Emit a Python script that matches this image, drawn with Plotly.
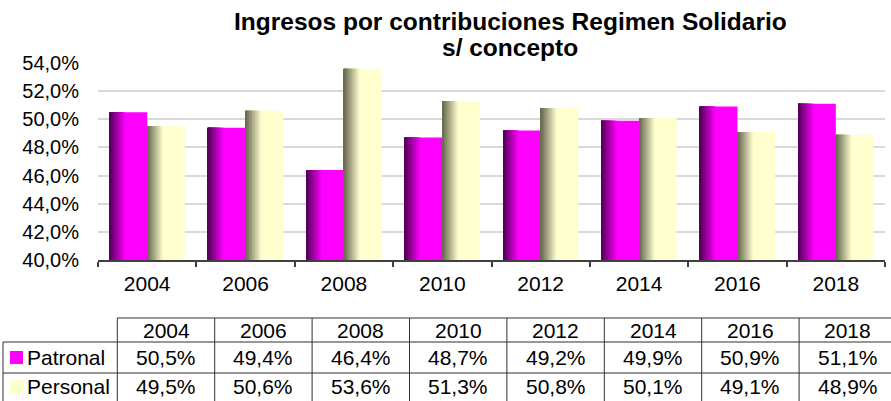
import plotly.graph_objects as go

# ---------------- data ----------------
years = ["2004", "2006", "2008", "2010", "2012", "2014", "2016", "2018"]
patronal = [0.505, 0.494, 0.464, 0.487, 0.492, 0.499, 0.509, 0.511]
personal = [0.495, 0.506, 0.536, 0.513, 0.508, 0.501, 0.491, 0.489]
series_names = ["Patronal", "Personal"]
title_line1 = "Ingresos por contribuciones Regimen Solidario"
title_line2 = "s/ concepto"

# ---------------- style ----------------
FONT = "Arial, Liberation Sans, sans-serif"
W, H = 891, 401
ML, MR, MT, MB = 98, 6, 63, 141
PW, PH = W - ML - MR, H - MT - MB

def px(x):
    return (x - ML) / PW

def py(y):
    return (H - MB - y) / PH

def lerp(c1, c2, t):
    return "rgb(%d,%d,%d)" % tuple(round(a + (b - a) * t) for a, b in zip(c1, c2))

bar_w = 0.383
grad_frac = 0.42
N = 10
styles = [
    {"dark": (80, 0, 85), "bright": (255, 0, 255), "offset": -bar_w, "key": "rgb(255,0,255)"},
    {"dark": (100, 100, 78), "bright": (255, 255, 208), "offset": 0.0, "key": "rgb(255,255,204)"},
]

fig = go.Figure()
for vals, st in zip([patronal, personal], styles):
    fig.add_trace(go.Bar(x=years, y=vals, width=bar_w, offset=st["offset"],
                         marker=dict(color=lerp(st["bright"], st["bright"], 0), line_width=0),
                         showlegend=False, hoverinfo="skip"))
    for k in range(1, N + 1):
        f = (N - k + 1) / N
        s = (N - k + 0.5) / N
        fig.add_trace(go.Bar(x=years, y=vals, width=bar_w * grad_frac * f, offset=st["offset"],
                             marker=dict(color=lerp(st["dark"], st["bright"], s), line_width=0),
                             showlegend=False, hoverinfo="skip"))

annotations = []
shapes = []

# title
tt_font = dict(family=FONT, size=24.5, color="black")
annotations.append(dict(text="<b>%s</b>" % title_line1, x=px(510), y=py(22), xref="paper", yref="paper",
                        xanchor="center", yanchor="middle", showarrow=False, font=tt_font))
annotations.append(dict(text="<b>%s</b>" % title_line2, x=px(510), y=py(47), xref="paper", yref="paper",
                        xanchor="center", yanchor="middle", showarrow=False, font=tt_font))

# data table
t_left, t_lab, col_w = 3, 117.3, 97.4
t_right = t_lab + col_w * len(years)
r_top, r1, r2, r_bot = 318, 342, 373, 404
lc = "#303030"
def hline(y, x0, x1):
    shapes.append(dict(type="line", xref="paper", yref="paper", x0=px(x0), x1=px(x1), y0=py(y), y1=py(y),
                       line=dict(color=lc, width=1)))
def vline(x, y0, y1):
    shapes.append(dict(type="line", xref="paper", yref="paper", x0=px(x), x1=px(x), y0=py(y0), y1=py(y1),
                       line=dict(color=lc, width=1)))
hline(r_top, t_lab, t_right)
hline(r1, t_left, t_right)
hline(r2, t_left, t_right)
vline(t_left, r1, r_bot)
for i in range(len(years) + 1):
    vline(t_lab + col_w * i, r_top, r_bot)

def fmt(v):
    return ("%.1f%%" % (v * 100)).replace(".", ",")

tfont = dict(family=FONT, size=21, color="black")
row_centers = [(r1 + r2) / 2, (r2 + r_bot) / 2 - 2]
for i, yr in enumerate(years):
    cx = t_lab + col_w * (i + 0.5)
    annotations.append(dict(text=yr, x=px(cx), y=py((r_top + r1) / 2), xref="paper", yref="paper",
                            xanchor="center", yanchor="middle", showarrow=False, font=tfont))
    for vals, rc in zip([patronal, personal], row_centers):
        annotations.append(dict(text=fmt(vals[i]), x=px(cx), y=py(rc), xref="paper", yref="paper",
                                xanchor="center", yanchor="middle", showarrow=False, font=tfont))

for name, st, rc in zip(series_names, styles, row_centers):
    shapes.append(dict(type="rect", xref="paper", yref="paper", x0=px(10), x1=px(23),
                       y0=py(rc - 6.5), y1=py(rc + 6.5), line_width=0, fillcolor=st["key"]))
    annotations.append(dict(text=name, x=px(25), y=py(rc), xref="paper", yref="paper",
                            xanchor="left", yanchor="middle", showarrow=False, font=tfont))

fig.update_layout(
    width=W, height=H,
    margin=dict(l=ML, r=MR, t=MT, b=MB, autoexpand=False),
    paper_bgcolor="white", plot_bgcolor="white",
    barmode="overlay",
    separators=",.",
    font=dict(family=FONT, size=20, color="black"),
    annotations=annotations,
    shapes=shapes,
    xaxis=dict(type="category", showline=True, linecolor="#404040", linewidth=2,
               ticks="outside", tickson="boundaries", ticklen=5, tickcolor="#404040", tickwidth=1.5,
               showgrid=False, tickfont=dict(family=FONT, size=21, color="black"),
               ticklabelstandoff=4, automargin=False),
    yaxis=dict(range=[0.40, 0.54], dtick=0.02, tick0=0.40, tickformat=".1%",
               showgrid=True, gridcolor="#D9D9D9", gridwidth=2, zeroline=False,
               showline=False, ticks="", tickfont=dict(family=FONT, size=20, color="black"),
               ticklabelstandoff=18, automargin=False),
)

fig.write_html("out.html", config={"displayModeBar": False},
               post_script="document.body.style.margin='0';document.body.style.overflow='hidden';")
